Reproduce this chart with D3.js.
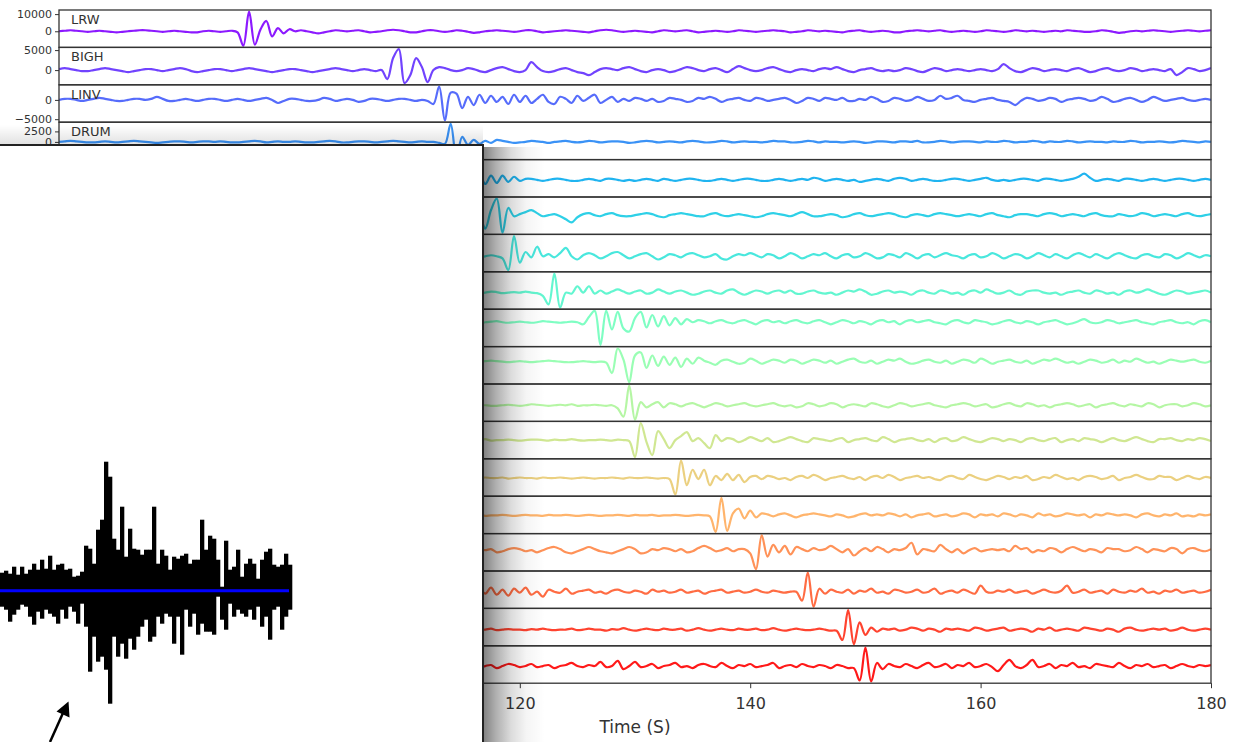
<!DOCTYPE html>
<html>
<head>
<meta charset="utf-8">
<script src="https://cdn.jsdelivr.net/npm/d3@7"></script>
<style>
body { margin: 0; background: #fff; }
svg { display: block; font-family: "DejaVu Sans", sans-serif; }
</style>
</head>
<body>
<script>
// record section, one trace per station, samples every 0.5 s
const stations = ['LRW', 'BIGH', 'LINV', 'DRUM', '', '', '', '', '', '', '', '', '', '', '', '', '', '']
const startTimes = [80, 80, 80, 80, 110, 110, 110, 110, 110, 110, 110, 110, 110, 110, 110, 110, 110, 110]
const sampleStep = 0.5
const gains = [600, 250, 267, 238, 1, 1, 1, 1, 1, 1, 1, 1, 1, 1, 1, 1, 1, 1]
const yTicks = [[0, 10000], [0, 5000], [-5000, 0], [0, 2500], [0], [0], [0], [0], [0], [0], [0], [0], [0], [0], [0], [0], [0], [0]]
const xTicks = [80, 100, 120, 140, 160, 180]

const lrw = [0,0.5,1,0.5,0,-0.5,0,0.5,0,-0.5,-1,-0.5,0,0.5,1,1,0.5,0,-0.5,0,0.5,0,-0.5,-1,-1,0,0.5,0,-0.5,0,0.5,-1,
  -14,19,-13,2,10,-5,3,-2,2,0,
  1,0,-1,-2,-1,0,1,0.5,0,0.5,1,0,-1,-0.5,0,1,1.5,1,0,-1,
  -1,0,1,1,0,-0.5,0,1,0.5,-0.5,-1.5,-1,0,0.5,1,0.5,0,-0.5,0,1,
  1,0,-1,-0.5,0,0.5,1,0.5,0,-0.5,-1,0,1,1.5,1,0,-0.5,0,0.5,0,
  -0.5,-1,0,1,0.5,0,0.5,1,0,-1,-0.5,0,0.5,0,-0.5,0,1,0.5,0,-0.5,
  0,0.5,1,0.5,0,-1,-0.5,0,1,0.5,0,0.5,0,-0.5,-1,0,0.5,1,0,-0.5,
  0,0.5,0,-1,-1,0,0.5,1,0.5,0,0.5,1,0,-0.5,0,0.5,0,-0.5,0,1,
  0.5,0,-0.5,0,1,0.5,0,0.5,0,-0.5,0,0.5,0,1,0.5,0,-0.5,-0.5,0,1,
  0.5,-0.5,-1.5,-1,0,0.5,0,0.5,1,0.5,0,-0.5,0,0.5,1,0.5,0,0.5,1]
const bigh = [1,2,1,0,-1,-1,0,1,2,1,0,-1,-2,-1,0,1,1,0,-1,0,
  1,2,1,-1,-2,-1,0,1,1,0,-1,0,1,2,1,0,-1,-2,-1,0,
  1,1,0,-1,-2,-1,0,1,2,1,0,-1,0,1,0,-1,0,
  -9,12,21,-13,-5,12,3,-12,0,
  3,2,0,-1,0,2,1,-1,-2,0,2,3,1,-1,-2,0,8,3,-1,-2,
  -1,1,2,0,-2,-3,-5,-2,1,2,1,0,2,3,1,-1,-2,0,1,0,
  -2,-1,1,3,2,0,-1,1,2,0,-2,1,4,2,0,-1,0,2,3,1,
  -1,-2,0,1,0,-1,1,2,1,3,1,-1,-2,0,1,2,0,-1,0,-1,
  0,2,1,-1,-2,0,2,1,-1,0,1,0,-1,0,1,0,-1,1,6,2,
  -1,-2,0,2,1,-1,0,1,0,-1,1,2,0,-2,-1,1,2,0,-1,0,
  2,1,-1,0,1,0,-1,1,-5,-2,2,1,-1,0,2]
const linv = [0,1,1,0,-1,0,1,2,1,0,-1,-1,0,1,1,0,1,3,1,-1,
  -1,0,1,0,-1,0,1,1,0,-1,0,1,0,-1,0,1,2,0,-3,-1,
  1,1,0,-1,-1,0,2,1,-1,0,1,0,-2,-1,1,1,0,-1,0,1,1,0,-1,0,-1,
  -4,13,-20,7,6,-8,3,-5,5,-3,4,-2,3,
  -4,5,-2,4,-3,1,5,-2,-4,3,1,-3,4,-1,2,5,-3,0,3,-2,
  1,-1,2,1,-1,1,-2,-1,2,1,0,-2,-1,2,1,3,1,-2,0,1,
  2,0,-1,2,1,-1,0,1,2,0,-3,-1,2,1,-1,2,1,0,2,-1,
  -1,1,0,3,1,-2,-1,2,1,-1,0,3,1,-1,0,4,1,2,4,0,
  -1,-2,0,1,2,0,-1,-2,-5,-1,2,1,-1,0,2,1,-2,0,1,2,
  1,-1,0,3,1,-2,-1,1,2,0,-2,0,3,1,-1,0,1,2,0,-1,0,1,0]
const drum = [0,0.5,1,0.5,0,-0.5,-0.5,0,0.5,0,-0.5,0,0.5,1,0.5,0,-0.5,-1,-0.5,0,
  0.5,0.5,0,-0.5,0,0.5,0.5,0,0.5,0,-0.5,-0.5,0,0.5,1,0.5,-0.5,0,0.5,0,
  0,0.5,0,-0.5,-0.5,0,0.5,1,0.5,-0.5,-0.5,0,0.5,0.5,0,-0.5,0,0.5,1,0.5,0,-0.5,0,0.5,0,0,-1,
  -2,18,-16,5,-3,2,-2,1,-1,2,
  1,0,-1,-0.5,0,1,0.5,0,-1,0,0.5,1,0,-0.5,0,1,0.5,-0.5,0,0.5,
  0.5,0,-1,-0.5,0.5,1,0.5,-0.5,0,0.5,0,-0.5,0.5,1,0.5,-0.5,-0.5,0,1,0.5,
  -0.5,0,0.5,0,0,-0.5,0,1,0.5,0.5,-0.5,-0.5,0,1,0.5,-0.5,0.5,0,0,-0.5,
  0,0.5,0,-1,-0.5,0.5,0.5,0,-0.5,0.5,0.5,0,1,-0.5,-0.5,0,1,0.5,-0.5,0,
  0.5,0.5,0,-0.5,0.5,0,0,1,0.5,-0.5,0,0,1,0.5,-0.5,0.5,0,0,1,0.5,
  -0.5,0,0.5,0,0,-0.5,0.5,0,0,1,0.5,-0.5,0,0,0.5,0,-0.5,0,1,0.5,0,-0.5,0.5,0]
const s05 = [0,0.5,0,-0.5,0,0.5,0,-1,
  -4,18,-15,8,-6,5,-4,4,-3,4,-2,3,-1,
  1,1,0,-1,0,1,1,0,-1,-1,0,1,0,-1,1,1,0,-1,0,-1,
  0,1,0,-1,1,0,-1,0,1,1,0,-1,-1,0,1,0,-1,0,1,1,
  0,-1,-1,0,1,0,-1,0,1,0,2,1,-1,0,1,0,-1,0,-2,-1,
  0,1,0,-1,1,2,1,-1,0,1,0,-1,-1,0,1,1,0,-1,0,1,
  2,0,-1,0,-1,0,1,1,0,-1,1,1,0,-1,0,1,3,6,2,-1,
  0,1,0,-1,1,1,0,-1,0,1,0,-1,0,1,1,0,-1,0,1,0]
const s06 = [0,0.5,1,0.5,0,-0.5,0,0.5,0,-0.5,0,0.5,-1,
  -1,-13,5,16,-17,7,-1,
  1,3,5,2,-1,0,1,-1,-4,-7,-2,1,2,0,-1,1,2,0,-1,-1,0,
  1,2,1,-1,-2,0,1,2,1,0,-1,-1,1,2,0,-1,0,1,0,-1,
  -2,-1,1,2,1,0,-1,1,3,1,-1,-1,0,1,0,-2,-1,1,2,0,
  -1,0,1,2,1,-1,-2,0,1,0,-1,1,2,1,0,-1,0,1,0,-1,
  1,2,0,-1,-2,0,1,1,0,-1,1,2,1,-1,0,1,0,-1,1,2,
  0,-1,-1,1,0,-1,0,2,1,-1,0,1,0,-1,1,2,0,-1,0,1]
const s07 = [0,1,0,-1,-0.5,0.5,1,0,-1,0,1,0.5,0,-0.5,0,1,0,-2,
  -13,19,-6,4,-1,9,0,2,-1,3,8,0,-3,
  1,3,1,-2,0,3,4,1,-2,0,2,3,0,-3,-1,2,1,-1,2,3,
  1,-1,0,2,-2,-3,0,2,1,3,1,-1,2,1,-2,0,3,1,-2,0,
  2,1,3,0,-2,1,2,-1,0,3,1,-2,-1,2,1,-1,3,1,-2,1,
  2,-1,1,3,1,0,-2,1,2,-1,0,3,1,-2,0,2,1,-2,0,3,
  1,-1,2,0,-2,1,3,1,-1,2,0,-2,1,3,1,-1,-2,1,2,0,
  -1,2,1,-2,0,3,1,-1,1,0]
const s08 = [0,0.5,1,0.5,0,-0.5,0,0.5,0,-0.5,0,0.5,0,-0.5,0,1,0.5,-0.5,0,0.5,0,1,0,-0.5,
  -3,-11,18,-14,0,-1,6,0,6,-1,2,
  -1,1,3,1,-1,1,2,-1,0,3,1,-1,1,2,0,-2,-1,1,2,0,
  -1,2,3,0,-2,0,2,1,-1,1,2,0,2,-1,-1,1,2,0,-1,0,
  -2,0,2,1,3,1,-2,-1,1,2,0,1,0,-2,1,2,0,-1,2,1,
  -1,0,-2,1,2,0,3,1,-1,0,2,-1,-2,1,2,2,0,-1,0,-2,
  0,1,2,0,-1,2,1,-1,0,-2,1,2,0,1,3,1,-1,-2,0,2,1,-1,0,1,2,0]
const s09 = [0,0.5,0,-0.5,0,0.5,1,0.5,0,-0.5,0,0.5,0,-1,0,0.5,1,0,-0.5,0,0.5,0,-0.5,0,1,0.5,0,-0.5,0,0.5,0,
  -2,5,11,-22,11,-7,10,-6,-9,4,10,-5,7,-4,6,-3,4,-2,3,
  0,2,1,-1,1,2,0,-1,1,2,0,-2,1,2,0,1,-1,1,2,0,
  -1,1,2,0,-2,0,2,1,-1,1,0,-2,1,2,0,1,-2,1,2,0,
  1,2,0,-1,-2,1,2,0,-1,2,1,0,-2,-1,1,2,0,-1,1,0,
  -2,0,1,2,0,-2,-1,1,3,0,-1,0,2,1,-1,0,1,2,0,-1,-2,0,1,2,0,-1,0,-2,1,2,0]
const s10 = [0,0.5,0,-0.5,0,0.5,1,0,-0.5,0,0.5,0,-0.5,0,0.5,1,0.5,0,-0.5,0,0.5,0,-0.5,0,0.5,1,0.5,0,-0.5,-0.5,0,0.5,0,-0.5,0,
  -1,-11,13,2,-20,6,9,-6,6,-4,5,-3,4,-5,3,-2,4,
  1,-1,-3,1,2,0,-2,-1,3,1,-2,0,2,1,-1,2,1,-2,0,2,
  1,-1,1,-2,0,2,3,0,-1,1,-2,0,2,1,3,0,-2,-1,1,2,
  0,-1,1,-2,0,2,1,-1,3,1,-2,0,1,2,0,-1,1,-2,0,2,
  1,3,1,-1,0,-2,0,2,1,-1,0,2,-1,1,0,3,1,-1,0,-2,0,2,1,0,1,2,0,-1,1]
const s11 = [0,0.5,0,0,-0.5,0,0.5,1,0.5,-0.5,0,0.5,0,0.5,0,-0.5,-0.5,0,0.5,0,-0.5,0,1,0.5,0,-0.5,0,0.5,0,1,-0.5,0,0,0.5,0,-0.5,0,
  -3,-11,19,-14,3,-2,1,3,-2,2,
  1,-1,1,2,0,-2,0,2,1,-1,0,1,2,0,-1,0,1,2,0,-1,
  0,-2,-1,2,1,-1,0,2,1,-2,0,1,0,-1,2,1,-1,-2,0,2,
  1,-1,0,1,2,0,-1,-2,0,1,2,1,-1,0,1,-2,-1,1,2,0,
  -1,2,1,-1,0,-2,0,1,2,1,-1,0,1,-2,0,1,2,0,-1,1,0,-1,2,1,-2,0,1,1,-1,0,2,1,-1,0]
const s12 = [0,0,0.5,0,-0.5,0,0.5,1,0,-0.5,0,0.5,0,0,1,-0.5,0,0,0.5,0,-0.5,0,0.5,0.5,0,-0.5,0.5,0,0,1,0,-0.5,0,0,0.5,0,-0.5,0.5,0,
  -1,-17,17,-2,-15,9,1,-8,0,4,8,-1,2,-3,-8,5,-1,2,
  1,-2,0,3,1,-1,2,-2,-1,1,3,1,-1,-2,2,1,0,-1,1,2,
  -2,0,1,2,0,-1,3,1,-2,0,1,2,0,-1,1,-2,1,2,-1,0,
  3,1,-1,-2,0,2,1,-1,1,0,-2,1,2,0,-1,1,2,-2,0,1,
  -1,2,1,0,-2,0,2,0,-1,1,3,1,-1,-2,1,1,2,0,-1,1,0,2,1,-1]
const s13 = [0,0.5,0,-0.5,0,0,0.5,0,-0.5,0.5,0,0,-0.5,0,0.5,0,0,0.5,-0.5,0,0.5,0,0,-0.5,0.5,0,0,0.5,0,-0.5,0,0.5,0,-0.5,0,0,0.5,0,-0.5,0.5,0,0,0.5,0,-0.5,0,
  -1,-16,17,-7,8,-1,8,-7,2,-2,4,-2,3,-4,
  1,2,-1,2,1,-1,0,-2,1,2,0,3,1,-2,0,1,2,0,-1,1,
  -2,1,2,0,3,1,-2,0,1,2,0,1,-1,-2,1,2,0,-1,3,1,
  -1,-2,0,2,1,-1,1,0,2,-2,-1,1,0,3,1,-1,0,-2,1,2,
  1,-1,0,2,-2,0,1,3,1,-1,-1,2,1,1,-2,0,2,0,-1,1,0]
const s14 = [0,0.5,0,-0.5,0,0,0.5,0,0,-0.5,0.5,0,0,0.5,-0.5,0,0,0.5,0,-0.5,0,0.5,0,0,-0.5,0.5,0,0,0.5,0,-0.5,0,0.5,0,-0.5,0,0,0.5,0,-0.5,0.5,0,0,0.5,-0.5,0,0,0.5,0,-0.5,0,0.5,0,
  -1,-17,18,-16,2,7,-3,5,-2,2,
  1,-1,1,2,0,-2,0,1,2,1,0,-1,1,0,-2,-1,1,2,0,1,
  0,2,1,-1,1,-2,0,1,2,-1,0,1,-1,0,2,1,-2,1,0,1,
  -1,2,1,-1,1,0,-2,2,0,1,-1,0,2,1,0,1,-2,1,0,2,
  1,0,1,0,-2,1,2,0,-1,1,0,2,-1,0,-1,1,0,1]
const s15 = [0,1,1,0,1,2,1,-1,0,-2,-1,0,2,1,0,1,-2,-1,1,2,
  1,-1,0,-2,0,2,3,1,-2,-3,-1,1,3,1,-1,-2,-3,-1,1,3,
  1,-3,-2,1,0,2,1,-1,1,-2,-1,2,4,2,-1,0,2,-1,1,
  1,-3,-18,14,-6,5,-2,4,-4,3,1,
  -1,2,0,1,4,1,-2,1,-5,-1,2,-1,3,1,-2,1,0,
  2,7,-4,1,0,-1,5,1,-2,1,-3,0,2,-1,0,1,0,1,-1,4,1,2,-2,
  0,-1,2,1,-2,1,3,1,-1,1,0,-2,2,1,1,-1,0,3,1,-2,1,0,-1,2,1,-3,1,2,0,-1,1]
const s16 = [0,1,-1,0,1,0,-1,2,0,-1,1,0,-2,3,-2,4,-3,2,-4,3,
  -1,4,-3,0,-5,2,0,-1,3,-2,0,1,2,-1,0,-2,1,2,0,-1,
  1,0,-2,2,0,1,-1,0,2,-1,0,1,-2,0,1,2,-1,0,1,-1,0,2,0,-1,1,0,-1,0,
  0,-9,19,-15,3,-2,2,
  0,-1,2,-2,1,0,3,-1,0,-2,2,1,-1,0,2,-1,0,3,-2,0,
  1,-1,2,0,-2,6,0,-1,1,0,2,-1,0,1,-2,0,2,0,-1,1,
  6,-1,0,2,-1,0,1,-2,2,0,-1,1,0,3,-1,0,-2,1,0,2,-1,0,1,-1,0,2]
const s17 = [0,0.5,0,-0.5,0,0.5,0,0,-0.5,0.5,0,-0.5,0.5,0,0,1,-0.5,0,0.5,0,
  0,-0.5,0.5,0,1,0,-0.5,0,0,1,-0.5,0,1,0,0,-1,0.5,0,1.5,0,
  -1,0,1,0,-0.5,1,0,0,1,-1,0,1.5,0,-1,0,1,0,-0.5,1,0,
  0,1,-0.5,0,1.5,0,-1,0,1,0,-0.5,0,1,0,-1,
  -1,-10,19,-14,7,-5,2,-2,1,0,
  1,-1,0,2,1,-1,1,0,-2,1,0,1,0,-1,2,1,-1,0,1,2,
  -1,0,1,0,-2,1,0,2,-1,0,1,0,-1,2,1,0,-1,1,0,-2,
  1,2,0,-1,0,1,0,1,-1,0,2,0,-1,0,1,0]
const s18 = [0,1,-1,0,2,0,-1,1,0,-2,1,0,2,-1,0,1,-2,0,2,1,
  -1,0,2,-1,0,1,-2,0,1,3,0,-1,1,0,4,-1,0,5,-3,0,
  4,-1,0,2,-2,0,1,3,-1,0,-2,1,2,0,-1,3,0,-2,1,0,
  2,-1,0,1,3,-2,0,1,-1,2,0,-1,1,0,-2,1,0,-2,
  -2,-14,18,-15,3,-3,2,
  0,-1,2,0,-2,1,3,-1,0,2,-2,1,0,3,-1,0,2,-1,-5,1,
  6,0,-2,1,6,-1,0,2,-2,1,0,3,-1,0,-2,2,1,0,-1,3,
  0,-2,1,0,2,-1,0,1,-2,0,2,0,-1,1,0,1]
const traces = [lrw, bigh, linv, drum, s05, s06, s07, s08, s09, s10, s11, s12, s13, s14, s15, s16, s17, s18]

// inset seismogram: upper and lower envelope per 4 px column
const insetUpper = [18,20,17,24,16,24,17,21,27,21,31,22,35,21,26,27,21,22,14,15,19,45,42,27,61,71,129,114,52,41,84,34,62,42,41,36,41,
  41,84,27,41,35,21,34,32,35,37,27,31,31,71,41,55,52,31,4,50,21,24,41,14,27,32,27,12,31,39,42,26,24,26,37,26]
const insetLower = [16,19,31,24,19,14,16,26,34,21,28,19,23,26,33,19,28,16,21,33,13,36,81,46,71,66,79,113,46,66,53,68,48,59,46,36,29,
  51,46,26,33,23,26,53,26,64,19,36,23,44,33,41,41,44,6,29,39,13,26,19,23,26,19,29,16,36,26,49,19,16,39,26,19]

const width = 1242
const height = 742
const plotTop = 10
const plotBottom = 683.2
const plotLeft = 59
const plotRight = 1211
const panelH = (plotBottom - plotTop) / traces.length

// matplotlib 'rainbow'
const rainbow = t => d3.rgb(
    255 * Math.min(1, Math.abs(2 * t - 0.5)),
    255 * Math.sin(Math.PI * t),
    255 * Math.cos(Math.PI * t / 2))

const svg = d3.select('body').append('svg')
    .attr('width', width)
    .attr('height', height)

const xScale = d3.scaleLinear()
    .domain([80, 180])
    .range([plotLeft, plotRight])

const defs = svg.append('defs')

traces.forEach((vals, i) => {
    const top = plotTop + i * panelH
    const ext = d3.extent(vals).map(v => v * gains[i])
    const pad = (ext[1] - ext[0]) * 0.05
    const yScale = d3.scaleLinear()
        .domain([ext[0] - pad, ext[1] + pad])
        .range([top + panelH, top])

    defs.append('clipPath').attr('id', 'clip' + i)
        .append('rect')
        .attr('x', plotLeft).attr('y', top)
        .attr('width', plotRight - plotLeft).attr('height', panelH)

    const line = d3.line()
        .x((d, j) => xScale(startTimes[i] + j * sampleStep))
        .y(d => yScale(d * gains[i]))
        .curve(d3.curveCatmullRom)

    const g = svg.append('g')

    g.append('path')
        .datum(vals)
        .attr('clip-path', `url(#clip${i})`)
        .style('fill', 'none')
        .style('stroke', rainbow(i / (traces.length - 1)))
        .style('stroke-width', 2.2)
        .style('stroke-opacity', 0.9)
        .style('stroke-linejoin', 'round')
        .attr('d', line)

    g.append('rect')
        .attr('x', plotLeft).attr('y', top)
        .attr('width', plotRight - plotLeft).attr('height', panelH)
        .style('fill', 'none')
        .style('stroke', '#333')
        .style('stroke-width', 1.3)

    const yAxis = d3.axisLeft(yScale)
        .tickValues(yTicks[i])
        .tickSize(4)
        .tickPadding(3)
        .tickFormat(d3.format('d'))

    g.append('g')
        .attr('transform', `translate(${plotLeft}, 0)`)
        .call(yAxis)
        .call(a => a.select('.domain').remove())
        .attr('font-size', 11)
        .attr('font-family', '"DejaVu Sans", sans-serif')
        .call(a => a.selectAll('text').style('fill', '#333'))
        .call(a => a.selectAll('line').style('stroke', '#333'))

    if (stations[i]) {
        g.append('text')
            .attr('x', plotLeft + 12)
            .attr('y', top + 14)
            .style('font-size', '13px')
            .style('fill', '#333')
            .text(stations[i])
    }
})

const xAxis = d3.axisBottom(xScale)
    .tickValues(xTicks)
    .tickSize(5)
    .tickPadding(9)

svg.append('g')
    .attr('transform', `translate(0, ${plotBottom})`)
    .call(xAxis)
    .call(a => a.select('.domain').remove())
    .attr('font-size', 16)
    .attr('font-family', '"DejaVu Sans", sans-serif')
    .call(a => a.selectAll('text').style('fill', '#333'))
    .call(a => a.selectAll('line').style('stroke', '#333'))

svg.append('text')
    .attr('x', (plotLeft + plotRight) / 2)
    .attr('y', 733)
    .attr('text-anchor', 'middle')
    .style('font-size', '17px')
    .style('fill', '#333')
    .text('Time (S)')

// overlay card with drop shadow
const boxRight = 483
const boxTop = 145

const gradRight = defs.append('linearGradient').attr('id', 'shadowRight')
    .attr('x1', 0).attr('x2', 1).attr('y1', 0).attr('y2', 0)
;[[0, 0.5], [0.2, 0.32], [0.45, 0.14], [0.7, 0.04], [1, 0]].forEach(s => {
    gradRight.append('stop').attr('offset', s[0]).attr('stop-color', '#000').attr('stop-opacity', s[1])
})
const gradTop = defs.append('linearGradient').attr('id', 'shadowTop')
    .attr('x1', 0).attr('x2', 0).attr('y1', 0).attr('y2', 1)
;[[0, 0], [1, 0.12]].forEach(s => {
    gradTop.append('stop').attr('offset', s[0]).attr('stop-color', '#000').attr('stop-opacity', s[1])
})

svg.append('rect')
    .attr('x', 0).attr('y', boxTop - 20)
    .attr('width', boxRight).attr('height', 20)
    .style('fill', 'url(#shadowTop)')

svg.append('rect')
    .attr('x', boxRight).attr('y', boxTop + 2)
    .attr('width', 62).attr('height', height - boxTop)
    .style('fill', 'url(#shadowRight)')

svg.append('rect')
    .attr('x', -3).attr('y', boxTop)
    .attr('width', boxRight + 3).attr('height', height)
    .style('fill', '#fff')
    .style('stroke', '#222')
    .style('stroke-width', 2)

// inset waveform
const insetX = d3.scaleLinear()
    .domain([0, insetUpper.length])
    .range([0, insetUpper.length * 4])
const insetY = d3.scaleLinear()
    .domain([-130, 130])
    .range([590.7 + 130, 590.7 - 130])

svg.append('g').selectAll('rect')
    .data(insetUpper)
    .join('rect')
    .attr('x', (d, i) => insetX(i))
    .attr('width', insetX(1) - insetX(0) + 0.3)
    .attr('y', d => insetY(d))
    .attr('height', (d, i) => insetY(-insetLower[i]) - insetY(d))
    .style('fill', '#000')

svg.append('line')
    .attr('x1', insetX(0)).attr('x2', insetX(insetUpper.length) - 3)
    .attr('y1', insetY(0)).attr('y2', insetY(0))
    .style('stroke', '#0000ff')
    .style('stroke-width', 3)

// arrow annotation
svg.append('line')
    .attr('x1', 50).attr('y1', 742)
    .attr('x2', 63).attr('y2', 713)
    .style('stroke', '#000')
    .style('stroke-width', 2.5)
svg.append('path')
    .attr('d', 'M68.5,701.5 L56.5,711.5 L69.5,717.5 Z')
    .style('fill', '#000')
</script>
</body>
</html>
